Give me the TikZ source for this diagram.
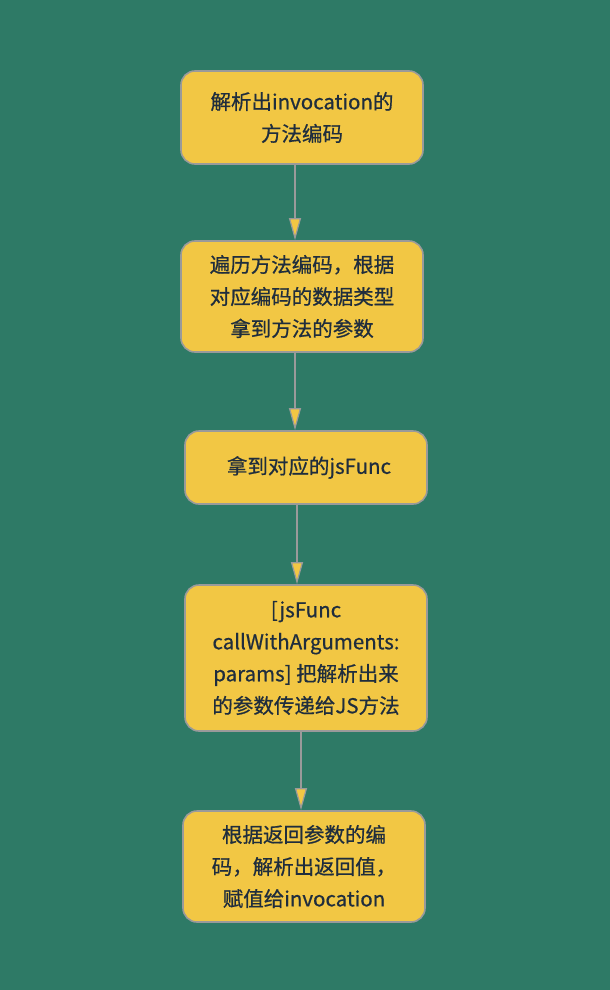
\documentclass[tikz,border=0pt]{standalone}
\usepackage{fontspec}
\setmainfont{Noto Sans CJK SC}[FakeBold=0.7]
\usetikzlibrary{arrows.meta}
\definecolor{bg}{HTML}{2E7A66}
\definecolor{boxfill}{HTML}{F2C744}
\definecolor{boxline}{HTML}{9A9A9A}
\definecolor{txt}{HTML}{1F2D3D}
\tikzset{
  stepbox/.style={draw=boxline, fill=boxfill, line width=1.6pt, rounded corners=14pt,
    minimum width=242pt, align=center, text=txt, font=\fontsize{20.5pt}{32pt}\selectfont, inner sep=0pt},
  flow/.style={draw=boxline, line width=1.6pt,
    -{Triangle[length=22pt,width=12pt,fill=boxfill,line width=1.2pt]}}
}
\begin{document}
\begin{tikzpicture}[x=1pt,y=1pt]
\fill[bg] (0,0) rectangle (610,-990);
\useasboundingbox (0,0) rectangle (610,-990);
\node[stepbox, minimum height=93pt] (n1) at (302,-117.5) {解析出invocation的\\方法编码};
\node[stepbox, minimum height=111pt] (n2) at (302,-296.5) {遍历方法编码，根据\\对应编码的数据类型\\拿到方法的参数};
\node[stepbox, minimum height=73pt] (n3) at (306,-467.5) {\hspace{6pt}拿到对应的jsFunc};
\node[stepbox, minimum height=146pt] (n4) at (306,-658) {[jsFunc\\callWithArguments:\\params] 把解析出来\\的参数传递给JS方法};
\node[stepbox, minimum height=111pt] (n5) at (304,-866.5) {根据返回参数的编\\码，解析出返回值，\\赋值给invocation};
\draw[flow] ([xshift=-7pt]n1.south) -- ([xshift=-7pt]n1.south |- n2.north);
\draw[flow] ([xshift=-7pt]n2.south) -- ([xshift=-7pt]n2.south |- n3.north);
\draw[flow] ([xshift=-9pt]n3.south) -- ([xshift=-9pt]n3.south |- n4.north);
\draw[flow] ([xshift=-5pt]n4.south) -- ([xshift=-5pt]n4.south |- n5.north);
\end{tikzpicture}
\end{document}
